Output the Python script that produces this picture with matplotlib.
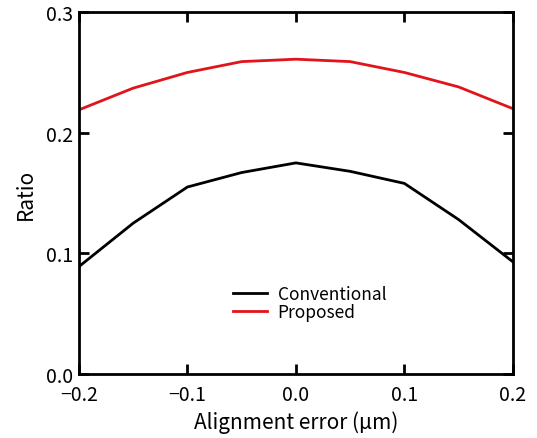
"""Ratio versus alignment error for conventional and proposed designs."""

import matplotlib
matplotlib.use("Agg")
import matplotlib.pyplot as plt

plt.rcParams["font.family"] = ["Noto Sans CJK JP", "DejaVu Sans"]

alignment_error = [-0.2, -0.15, -0.1, -0.05, 0.0, 0.05, 0.1, 0.15, 0.2]
conventional = [0.089, 0.125, 0.155, 0.167, 0.175, 0.168, 0.158, 0.128, 0.093]
proposed = [0.219, 0.237, 0.250, 0.259, 0.261, 0.259, 0.250, 0.238, 0.220]

x_ticks = [-0.2, -0.1, 0.0, 0.1, 0.2]
x_labels = ["\u22120.2", "\u22120.1", "0.0", "0.1", "0.2"]
y_ticks = [0.0, 0.1, 0.2, 0.3]
y_labels = ["0.0", "0.1", "0.2", "0.3"]

fig = plt.figure(figsize=(5.37, 4.39), dpi=100)
ax = fig.add_axes([0.147, 0.146, 0.808, 0.824])

ax.plot(alignment_error, conventional, color="black", lw=2, label="Conventional")
ax.plot(alignment_error, proposed, color="#e0141a", lw=2, label="Proposed")

ax.set_xlim(-0.2, 0.2)
ax.set_ylim(0.0, 0.3)
ax.set_xticks(x_ticks)
ax.set_xticklabels(x_labels)
ax.set_yticks(y_ticks)
ax.set_yticklabels(y_labels)
ax.tick_params(direction="in", length=7.5, width=2, labelsize=14,
               top=True, right=True)
ax.tick_params(axis="x", pad=7)
ax.tick_params(axis="y", pad=4)
for spine in ax.spines.values():
    spine.set_linewidth(2)

ax.set_xlabel("Alignment error (\u03bcm)", fontsize=15, labelpad=4)
ax.set_ylabel("Ratio", fontsize=15, labelpad=7)

ax.legend(loc="upper left", bbox_to_anchor=(0.318, 0.29), frameon=False,
          fontsize=12.5, handlelength=2.0, handletextpad=0.6, labelspacing=0.0)

fig.savefig("out.png", dpi=100)
